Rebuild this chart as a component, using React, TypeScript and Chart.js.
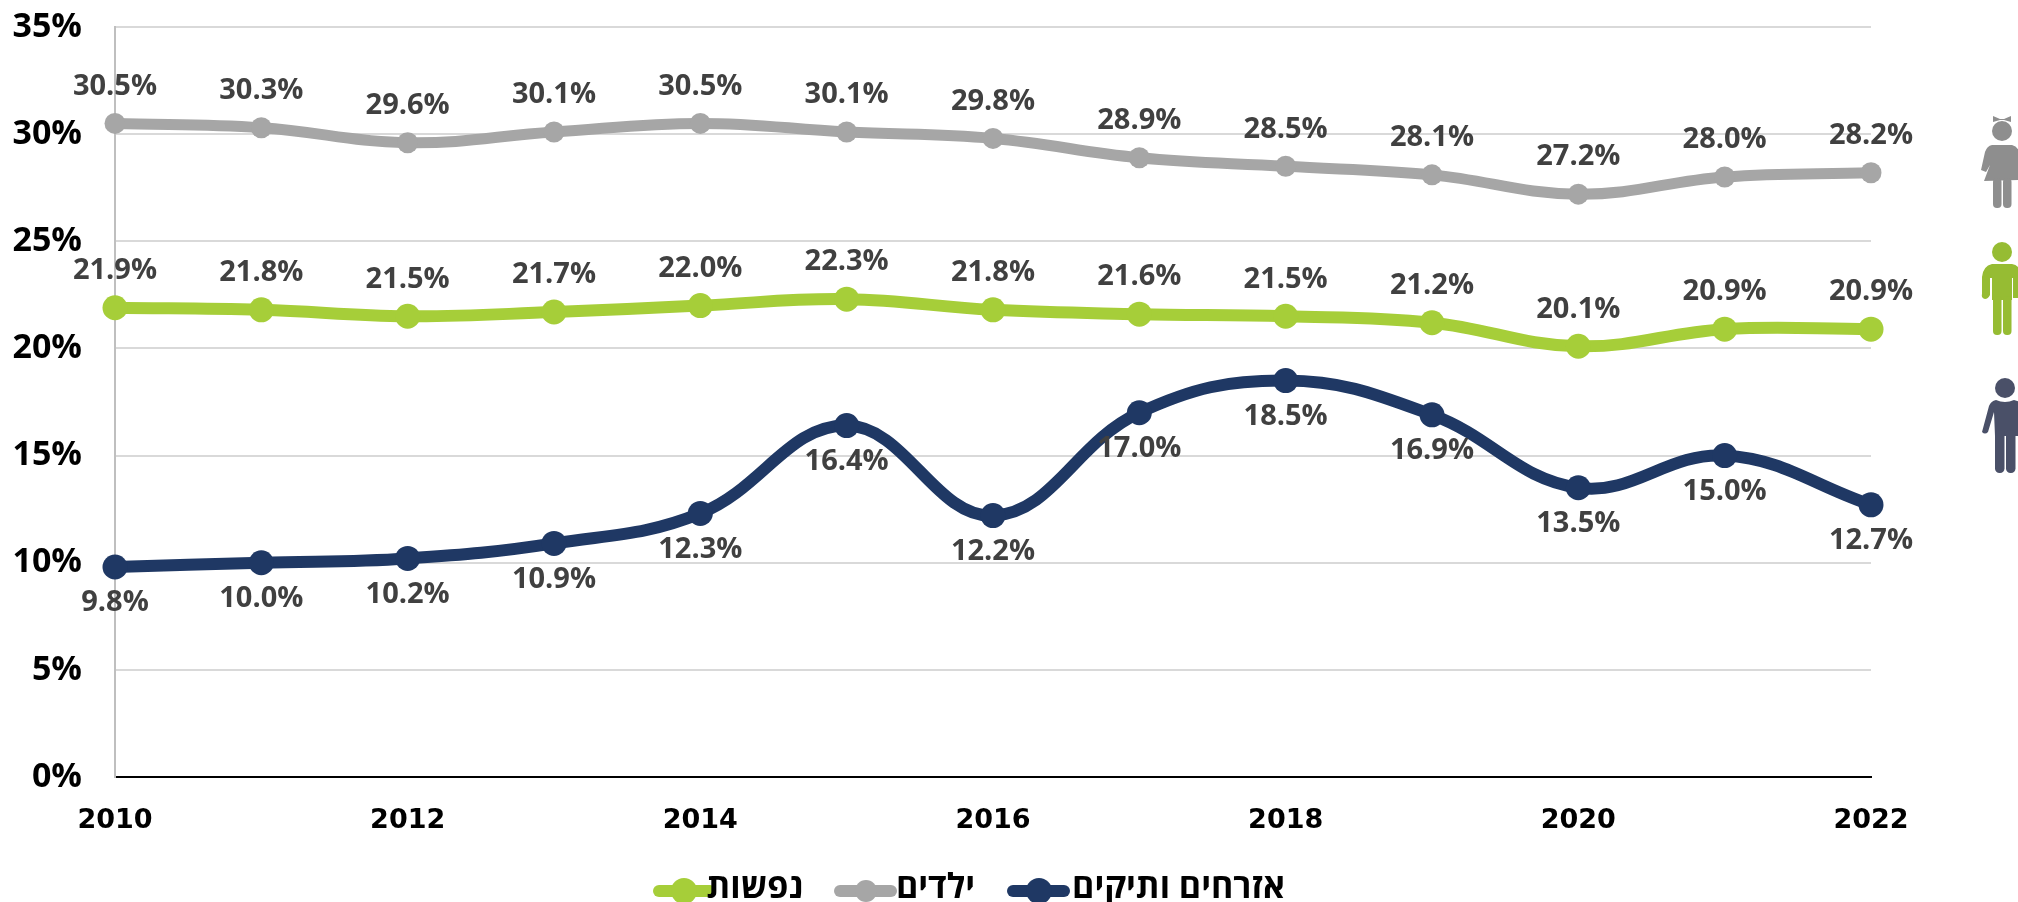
import React, { useEffect, useRef } from "react";
import { Chart, registerables } from "chart.js";

Chart.register(...registerables);

const years = ["2010","2011","2012","2013","2014","2015","2016","2017","2018","2019","2020","2021","2022"];
const elderly = [9.8,10.0,10.2,10.9,12.3,16.4,12.2,17.0,18.5,16.9,13.5,15.0,12.7];
const children = [30.5,30.3,29.6,30.1,30.5,30.1,29.8,28.9,28.5,28.1,27.2,28.0,28.2];
const persons = [21.9,21.8,21.5,21.7,22.0,22.3,21.8,21.6,21.5,21.2,20.1,20.9,20.9];

const NAVY = "#1F3864";
const GREY = "#A6A6A6";
const GREEN = "#A6CE39";
const FONT = '"Open Sans"';

const dataLabels = {
  id: "dataLabels",
  afterDatasetsDraw(chart: any) {
    const ctx = chart.ctx;
    ctx.save();
    ctx.font = `bold 29px ${FONT}`;
    ctx.fillStyle = "#404040";
    ctx.textAlign = "center";
    ctx.textBaseline = "middle";
    chart.data.datasets.forEach((ds: any, i: number) => {
      const below = ds.label === "אזרחים ותיקים";
      chart.getDatasetMeta(i).data.forEach((pt: any, j: number) => {
        ctx.fillText(ds.data[j].toFixed(1) + "%", pt.x, pt.y + (below ? 36 : -37));
      });
    });
    ctx.restore();
  },
};

const legendSpots = [
  { label: "נפשות", x: 659, end: 710, dot: 684, r: 13, textRight: 803, color: GREEN },
  { label: "ילדים", x: 840, end: 891, dot: 866, r: 11, textRight: 975, color: GREY },
  { label: "אזרחים ותיקים", x: 1013, end: 1064, dot: 1039, r: 13, textRight: 1285, color: NAVY },
];

const bottomLegend = {
  id: "bottomLegend",
  afterDraw(chart: any) {
    const ctx = chart.ctx;
    const y = 891;
    ctx.save();
    legendSpots.forEach((s) => {
      ctx.strokeStyle = s.color;
      ctx.fillStyle = s.color;
      ctx.lineWidth = 12;
      ctx.lineCap = "round";
      ctx.beginPath();
      ctx.moveTo(s.x, y);
      ctx.lineTo(s.end, y);
      ctx.stroke();
      ctx.beginPath();
      ctx.arc(s.dot, y, s.r, 0, Math.PI * 2);
      ctx.fill();
      ctx.fillStyle = "#000";
      ctx.font = `bold 34px ${FONT}`;
      ctx.textBaseline = "middle";
      ctx.direction = "rtl";
      ctx.textAlign = "right";
      ctx.fillText(s.label, s.textRight, y - 3);
    });
    ctx.restore();
  },
};

export default function App() {
  const ref = useRef<HTMLCanvasElement>(null);
  useEffect(() => {
    const common = { fill: false, tension: 0.4, clip: false as any, borderCapStyle: "round" as const };
    const chart = new Chart(ref.current!, {
      type: "line",
      data: {
        labels: years,
        datasets: [
          { ...common, label: "אזרחים ותיקים", data: elderly, borderColor: NAVY, backgroundColor: NAVY, borderWidth: 12, pointRadius: 12.5, pointBackgroundColor: NAVY, pointBorderWidth: 0 },
          { ...common, label: "ילדים", data: children, borderColor: GREY, backgroundColor: GREY, borderWidth: 11, pointRadius: 10.5, pointBackgroundColor: GREY, pointBorderWidth: 0 },
          { ...common, label: "נפשות", data: persons, borderColor: GREEN, backgroundColor: GREEN, borderWidth: 12, pointRadius: 12.5, pointBackgroundColor: GREEN, pointBorderWidth: 0 },
        ],
      },
      options: {
        responsive: false,
        animation: false,
        layout: { padding: { left: 0, top: 27, right: 147, bottom: 0 } },
        plugins: { legend: { display: false }, tooltip: { enabled: false } },
        scales: {
          x: {
            offset: false,
            grid: { display: false, drawTicks: false },
            border: { color: "#000", width: 2 },
            afterFit(s: any) { s.height = 125; s.paddingLeft = 0; s.paddingRight = 0; },
            ticks: {
              autoSkip: false,
              maxRotation: 0,
              padding: 28,
              color: "#000",
              font: { family: '"DejaVu Sans"', size: 27, weight: "bold" },
              callback(_v: any, i: number) { return i % 2 === 0 ? years[i] : ""; },
            },
          },
          y: {
            min: 0,
            max: 35,
            grid: { color: "#D9D9D9", lineWidth: 2, drawTicks: false },
            border: { color: "#BFBFBF", width: 2 },
            afterFit(s: any) { s.width = 115; s.paddingTop = 0; s.paddingBottom = 0; },
            ticks: {
              stepSize: 5,
              padding: 33,
              color: "#000",
              font: { family: FONT, size: 34, weight: "bold" },
              callback(v: any) { return v + "%"; },
            },
          },
        },
      },
      plugins: [dataLabels, bottomLegend],
    } as any);
    return () => chart.destroy();
  }, []);

  return (
    <div style={{ position: "fixed", left: 0, top: 0, width: 2018, height: 902, overflow: "hidden", background: "#fff" }}>
      <canvas ref={ref} width={2018} height={902} style={{ display: "block" }} />
      <svg width={2018} height={902} style={{ position: "absolute", left: 0, top: 0 }}>
        <g fill="#8E8E8E" stroke="none">
          <circle cx={2002} cy={131} r={10} />
          <path d="M1993 116 L2000 119 L2004 119 L2011 116 L2011 122 L2004 120 L2000 120 L1993 122 Z" />
          <path d="M1992 145 L2012 145 Q2019 147 2020 155 L2021 180 L1984 181 L1990 165 L1986 172 L1981 170 L1985 152 Q1987 146 1992 145 Z" />
          <rect x={1993} y={178} width={8.5} height={30} rx={4} />
          <rect x={2003} y={178} width={8.5} height={30} rx={4} />
        </g>
        <g fill="#96BC33" stroke="none">
          <circle cx={2002} cy={252} r={10} />
          <path d="M1992 264 L2012 264 Q2020 265 2021 275 L2021 298 L2013 298 L2013 278 L2012 278 L2012 300 L1992 300 L1992 278 L1990 278 L1990 295 Q1988 299 1985 299 Q1981 298 1982 294 L1982 277 Q1983 266 1992 264 Z" />
          <rect x={1993} y={296} width={8.5} height={39} rx={4} />
          <rect x={2003} y={296} width={8.5} height={39} rx={4} />
        </g>
        <g fill="#4A5068" stroke="none">
          <circle cx={2005} cy={388} r={10} />
          <path d="M1996 400 Q2005 404 2014 400 L2020 402 L2020 436 L1995 436 L1994 412 L1988 432 Q1985 435 1982 432 L1989 406 Q1991 401 1996 400 Z" />
          <rect x={1995} y={430} width={9.5} height={43} rx={4.5} />
          <rect x={2006} y={430} width={9.5} height={43} rx={4.5} />
        </g>
      </svg>
    </div>
  );
}
